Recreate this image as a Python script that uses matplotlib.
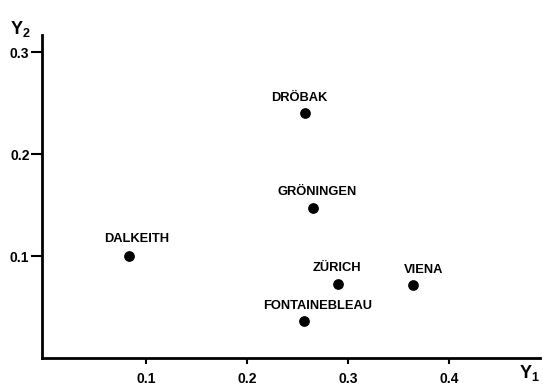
import matplotlib
matplotlib.use('Agg')
import matplotlib.pyplot as plt

# данные: координаты городов
cities = ['DRÖBAK', 'GRÖNINGEN', 'DALKEITH', 'ZÜRICH', 'VIENA', 'FONTAINEBLEAU']
y1 = [0.257, 0.265, 0.083, 0.290, 0.364, 0.256]
y2 = [0.240, 0.147, 0.100, 0.073, 0.072, 0.036]
x_ticks = [0.1, 0.2, 0.3, 0.4]
y_ticks = [0.1, 0.2, 0.3]

# смещения подписей в точках
label_offsets = {
    'DRÖBAK': (-4, 7),
    'GRÖNINGEN': (3, 7),
    'DALKEITH': (6, 8),
    'ZÜRICH': (-1, 7),
    'VIENA': (8, 6),
    'FONTAINEBLEAU': (10, 7),
}

plt.rcParams['font.family'] = ['Liberation Sans', 'DejaVu Sans']
plt.rcParams['mathtext.fontset'] = 'custom'
plt.rcParams['mathtext.bf'] = 'Liberation Sans:bold'
plt.rcParams['mathtext.rm'] = 'Liberation Sans:bold'

fig = plt.figure(figsize=(5.43, 3.85), dpi=100)
ax = fig.add_axes([0.0773, 0.0701, 0.917, 0.839])

ax.scatter(y1, y2, s=45, color='black', zorder=3)
for name, x, y in zip(cities, y1, y2):
    ax.annotate(name, (x, y), xytext=label_offsets[name], textcoords='offset points',
                ha='center', va='bottom', fontsize=9.3, fontweight='bold')

ax.set_xlim(-0.003, 0.49)
ax.set_ylim(0, 0.317)
ax.set_xticks(x_ticks)
ax.set_yticks(y_ticks)
ax.set_xticklabels([f'{t:.1f}' for t in x_ticks], fontsize=10, fontweight='semibold')
ax.set_yticklabels([f'{t:.1f}' for t in y_ticks], fontsize=10, fontweight='semibold')
ax.tick_params(axis='y', direction='out', length=8, width=1.5, pad=1)
ax.tick_params(axis='x', direction='out', length=4, width=1.5, pad=6)

for side in ['top', 'right']:
    ax.spines[side].set_visible(False)
for side in ['left', 'bottom']:
    ax.spines[side].set_linewidth(2)

fig.text(0.018, 0.912, r'$\mathrm{Y_2}$', fontsize=13)
fig.text(0.955, 0.018, r'$\mathrm{Y_1}$', fontsize=13)

fig.savefig('out.png', dpi=100)
